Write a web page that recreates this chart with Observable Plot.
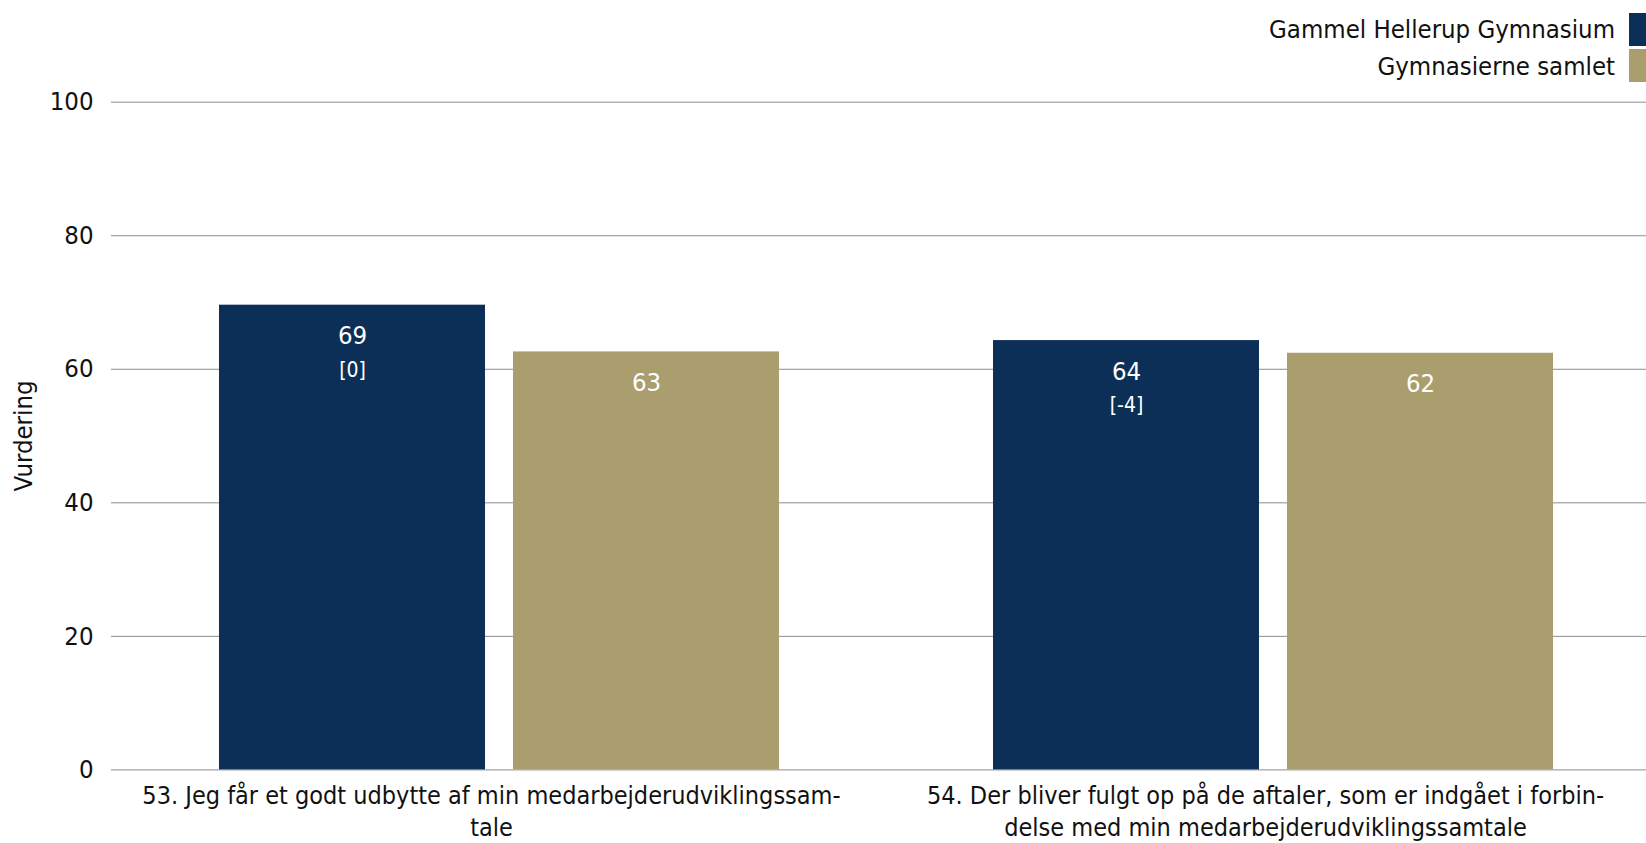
<!DOCTYPE html>
<html><head><meta charset="utf-8">
<script src="https://cdn.jsdelivr.net/npm/d3@7"></script>
<script src="https://cdn.jsdelivr.net/npm/@observablehq/plot@0.6"></script>
<style>
body{margin:0;background:#fff;font-family:"DejaVu Sans Condensed","DejaVu Sans",sans-serif;}
#legend{position:relative;height:86px;width:1646px}
.row{position:absolute;right:0;height:33px;display:flex;align-items:center;font-size:25.5px;color:#111}
.sw{width:17px;height:33px;margin-left:14px}
</style></head><body>
<div id="legend"></div><div id="chart"></div>
<script>
const questions = ["53", "54"];
const questionLabels = [
  "53. Jeg får et godt udbytte af min medarbejderudviklingssam-\ntale",
  "54. Der bliver fulgt op på de aftaler, som er indgået i forbin-\ndelse med min medarbejderudviklingssamtale"
];
const series = ["Gammel Hellerup Gymnasium", "Gymnasierne samlet"];
const colors = ["#0c2f57", "#ab9e6e"];
const ghgValues = [69.6, 64.3];
const samletValues = [62.6, 62.4];
const ghgLabels = ["69", "64"];
const samletLabels = ["63", "62"];
const ghgDiffs = ["[0]", "[-4]"];
const yTicks = [0, 20, 40, 60, 80, 100];

const FONT = '"DejaVu Sans Condensed","DejaVu Sans",sans-serif';

// legend
const legend = document.getElementById("legend");
const rowTops = [12.5, 49];
series.forEach((s, i) => {
  const r = document.createElement("div");
  r.className = "row";
  r.style.top = rowTops[i] + "px";
  const t = document.createElement("span");
  t.textContent = s;
  const sw = document.createElement("span");
  sw.className = "sw";
  sw.style.background = colors[i];
  r.appendChild(t); r.appendChild(sw);
  legend.appendChild(r);
});

const rows = [];
questions.forEach((q, i) => {
  rows.push({q, s: series[0], v: ghgValues[i], label: ghgLabels[i], diff: ghgDiffs[i]});
  rows.push({q, s: series[1], v: samletValues[i], label: samletLabels[i], diff: ""});
});

const W = 1646, ML = 110, MR = 0;
const plot = Plot.plot({
  width: W, height: 757,
  marginTop: 15.7, marginBottom: 73.6, marginLeft: ML, marginRight: MR,
  style: {fontFamily: FONT, fontSize: "25.5px", color: "#111", background: "#fff"},
  fx: {domain: questions, paddingInner: 0.018, paddingOuter: 0, axis: null},
  x: {domain: series, paddingInner: 0.095, paddingOuter: 0.337, align: 0.538, axis: null},
  y: {domain: [0, 100]},
  color: {domain: series, range: colors},
  marks: [
    Plot.axisY(yTicks, {tickSize: -(W - ML - MR), tickFormat: () => "", label: null, stroke: "#8c8c8c", strokeWidth: 1}),
    Plot.axisY(yTicks, {tickSize: 0, tickPadding: 18, label: "Vurdering", labelArrow: "none", labelAnchor: "center", labelOffset: 98, fontSize: 25.5}),
    Plot.barY(rows, {fx: "q", x: "s", y: "v", fill: "s"}),
    Plot.text(rows, {fx: "q", x: "s", y: "v", text: "label", fill: "white", dy: 31, fontSize: 25.5}),
    Plot.text(rows, {fx: "q", x: "s", y: "v", text: "diff", fill: "white", dy: 65, fontSize: 21}),
    Plot.text(questions, {fx: d => d, text: (d, i) => questionLabels[i], frameAnchor: "bottom", dy: 40, lineAnchor: "middle", lineHeight: 1.25, fill: "#111", fontSize: 25})
  ]
});
document.getElementById("chart").appendChild(plot);
</script>
</body></html>
